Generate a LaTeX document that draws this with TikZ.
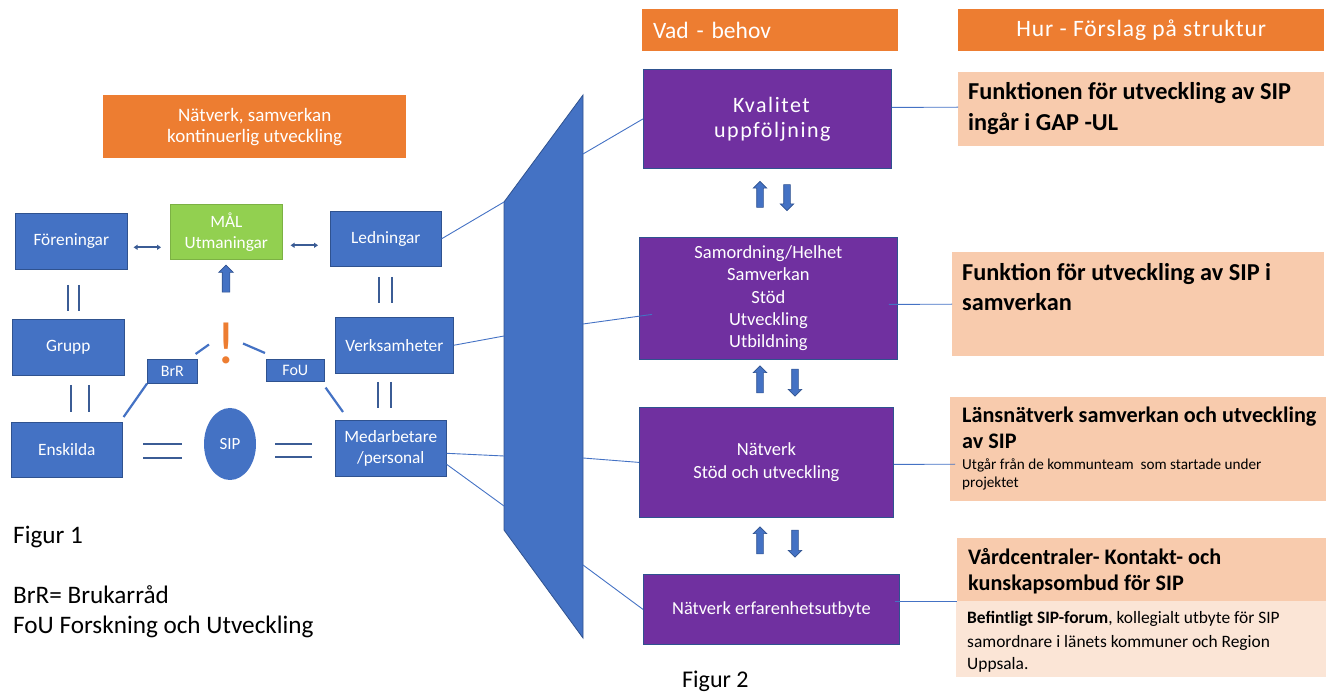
\documentclass[tikz,border=0pt]{standalone}
\usepackage{fontspec}
\setmainfont{Carlito}
\usetikzlibrary{shapes.geometric,shapes.arrows,arrows.meta,calc}
\definecolor{obg}{HTML}{ED7D31}
\definecolor{bbox}{HTML}{4472C4}
\definecolor{bdark}{HTML}{2F528F}
\definecolor{purp}{HTML}{7030A0}
\definecolor{peach}{HTML}{F8CBAD}
\definecolor{lpeach}{HTML}{FBE5D6}
\definecolor{grn}{HTML}{92D050}
\definecolor{pairc}{HTML}{3B5C95}
\begin{document}
\begin{tikzpicture}[x=1pt,y=-1pt,
  lb/.style={fill=bbox, draw=bdark, line width=0.6pt, text=white, font=\fontsize{17.3}{21}\selectfont, align=center, anchor=north west, inner sep=0pt},
  pb/.style={fill=purp, draw=bdark, line width=0.8pt, text=white, align=center, anchor=north west, inner sep=0pt},
  ob/.style={fill=obg, text=white, anchor=north west, inner sep=0pt},
  pch/.style={fill=peach, anchor=north west, inner sep=0pt},
  tl/.style={anchor=base west, inner sep=0pt},
  bigb/.style={tl, font=\bfseries\fontsize{24.3}{28}\selectfont},
  midb/.style={tl, font=\bfseries\fontsize{22.2}{26}\selectfont},
  conn/.style={draw=bbox, line width=0.9pt},
  lconn/.style={draw=bbox, line width=2.2pt},
  pairl/.style={draw=pairc, line width=1.8pt},
  blk/.style={single arrow, fill=bbox, draw=bdark, line width=0.6pt, inner sep=3pt, single arrow head extend=3.5pt, single arrow head indent=0pt, minimum height=27pt},
  harr/.style={draw=pairc, line width=1.6pt, {Triangle[length=4pt,width=5pt]}-{Triangle[length=4pt,width=5pt]}}
]
\useasboundingbox (0,0) rectangle (1326,692);

% ---------- left figure ----------
\node[ob, minimum width=303, minimum height=63, font=\fontsize{19}{21}\selectfont, align=center] (net) at (103,95) {Nätverk, samverkan\\kontinuerlig utveckling};

\node[lb, minimum width=112, minimum height=56] (fore) at (15,213) {Föreningar};
\node[lb, fill=grn, draw=grn!85!black, minimum width=112, minimum height=55] (mal) at (170,204) {MÅL\\Utmaningar};
\node[lb, minimum width=111, minimum height=55] (led) at (330,211) {Ledningar};
\node[lb, minimum width=112, minimum height=56] (grupp) at (12,319) {Grupp};
\node[lb, minimum width=118, minimum height=56] (verk) at (335,317) {Verksamheter};
\node[lb, minimum width=111, minimum height=55] (ensk) at (11,422) {Enskilda};
\node[lb, minimum width=111, minimum height=56] (med) at (335,420) {Medarbetare\\/personal};
\node[ellipse, fill=bbox, text=white, minimum width=52, minimum height=72, inner sep=0pt, font=\fontsize{17}{20}\selectfont] (sip) at (230,444) {SIP};
\node[lb, minimum width=50, minimum height=24, font=\fontsize{16}{18}\selectfont] (brr) at (147,359) {BrR};
\node[lb, minimum width=58, minimum height=22, font=\fontsize{16}{18}\selectfont] (fou) at (266,359) {FoU};
\node[text=obg, font=\fontsize{60}{60}\selectfont, inner sep=0pt] (ex) at (226,343.5) {!};
\node[blk, shape border rotate=90, inner sep=3.5pt] (up0) at (226,280.5) {};

% horizontal double arrows
\draw[harr] ([xshift=6pt,yshift=-6pt]fore.east) -- ([xshift=-9pt,yshift=-15.5pt]mal.west);
\draw[harr] ([xshift=8pt,yshift=-13.5pt]mal.east) -- ([xshift=-12pt,yshift=-6.5pt]led.west);

% vertical pairs
\draw[pairl] (68,285) -- (68,311);  \draw[pairl] (79,285) -- (79,311);
\draw[pairl] (71,385) -- (71,412);  \draw[pairl] (89,385) -- (89,412);
\draw[pairl] (379,277) -- (379,303); \draw[pairl] (392,277) -- (392,303);
\draw[pairl] (378,382) -- (378,408); \draw[pairl] (391,382) -- (391,408);
% equal signs
\draw[pairl, line width=2.6pt] (143,444) -- (182,444); \draw[pairl, line width=2.6pt] (143,458) -- (182,458);
\draw[pairl, line width=2.6pt] (275,444) -- (312,444); \draw[pairl, line width=2.6pt] (275,457) -- (312,457);

% diagonal connectors
\draw[lconn] (brr.south west) -- ([shift={(1,-5)}]ensk.north east);
\draw[lconn] ([shift={(-2,-5)}]brr.north east) -- ([shift={(-17,1)}]ex.center);
\draw[lconn] ([shift={(17,0)}]ex.center) -- ([shift={(-1,-6)}]fou.north west);
\draw[lconn] ([shift={(1,6)}]fou.south east) -- ([shift={(8,-8)}]med.north west);

% ---------- trapezoid ----------
\coordinate (t1) at (504,202);
\coordinate (t2) at (583,95);
\coordinate (t3) at (583,638);
\coordinate (t4) at (504,530);
\filldraw[fill=bbox, draw=bdark, line width=0.8pt] (t1) -- (t2) -- (t3) -- (t4) -- cycle;
\coordinate (tl2) at (504,336);
\coordinate (tl3) at (504,456);
\coordinate (tl4) at (504,506);
\coordinate (tr1) at (583,154);
\coordinate (tr2) at (583,324);
\coordinate (tr3) at (583,458);
\coordinate (tr4) at (583,565);

% ---------- headers ----------
\node[ob, minimum height=42, text width=234, inner xsep=11pt, align=left, font=\fontsize{23.5}{26}\selectfont] (vad) at (642,9) {Vad - behov};
\node[ob, minimum width=366, minimum height=42, font=\fontsize{23.5}{26}\selectfont\addfontfeature{LetterSpace=4}] (hur) at (958,9) {Hur - Förslag på struktur};

% ---------- purple boxes ----------
\node[pb, minimum width=248, minimum height=99, font=\fontsize{22}{25}\selectfont\addfontfeature{LetterSpace=7}] (kval) at (643,69) {\hspace*{8pt}Kvalitet\\\hspace*{10pt}uppföljning};
\node[pb, minimum width=258, minimum height=122, font=\fontsize{18.5}{22.3}\selectfont] (samo) at (639,237) {Samordning/Helhet\\Samverkan\\Stöd\\Utveckling\\Utbildning};
\node[pb, minimum width=254, minimum height=110, font=\fontsize{18.5}{23}\selectfont] (natv) at (639,407) {Nätverk\\Stöd och utveckling};
\node[pb, minimum width=256, minimum height=70, font=\fontsize{18.4}{21}\selectfont] (erf) at (643,574) {Nätverk erfarenhetsutbyte};

\node[blk, shape border rotate=90,  minimum height=26pt] (a1u) at (760,196) {};
\node[blk, shape border rotate=270, minimum height=26pt] (a1d) at (787,196) {};
\node[blk, shape border rotate=90] (a2u) at (760,381) {};
\node[blk, shape border rotate=270] (a2d) at (795,381) {};
\node[blk, shape border rotate=90] (a3u) at (760,542) {};
\node[blk, shape border rotate=270] (a3d) at (795,542) {};

% ---------- peach boxes ----------
\node[pch, minimum width=366, minimum height=74] (p1) at (958,72) {};
\node[bigb] (p1a) at (968,100) {Funktionen för utveckling av SIP};
\node[bigb] (p1b) at (968,131) {ingår i GAP -UL};

\node[pch, minimum width=372, minimum height=104] (p2) at (952,252) {};
\node[bigb] (p2a) at (962,281) {Funktion för utveckling av SIP i};
\node[bigb] (p2b) at (962,311) {samverkan};

\node[pch, minimum width=376, minimum height=104] (p3) at (950,397) {};
\node[midb] (p3a) at (962,423) {Länsnätverk samverkan och utveckling};
\node[midb] (p3b) at (962,449) {av SIP};
\node[tl, font=\fontsize{15.2}{18}\selectfont] (p3c) at (962,470) {Utgår från de kommunteam\ \ som startade under};
\node[tl, font=\fontsize{15.2}{18}\selectfont] (p3d) at (962,488) {projektet};

\node[pch, minimum width=369, minimum height=63] (p4) at (957,538) {};
\node[midb] (p4a) at (968,564) {Vårdcentraler- Kontakt- och};
\node[midb] (p4b) at (968,590) {kunskapsombud för SIP};

\node[pch, fill=lpeach, minimum width=370, minimum height=76] (p5) at (956,601) {};
\node[tl, font=\fontsize{17.4}{20}\selectfont] (p5a) at (967,623) {\textbf{Befintligt SIP-forum}, kollegialt utbyte för SIP};
\node[tl, font=\fontsize{17.4}{20}\selectfont] (p5b) at (967,647) {samordnare i länets kommuner och Region};
\node[tl, font=\fontsize{17.4}{20}\selectfont] (p5c) at (967,669) {Uppsala.};

% ---------- connectors ----------
\draw[conn] (led.east) -- (t1);
\draw[conn] (verk.east) -- (tl2);
\draw[conn] ([yshift=-5pt]med.east) -- (tl3);
\draw[conn] ([yshift=-16pt]med.east) -- (tl4);
\draw[conn] (tr1) -- (kval.west);
\draw[conn] (tr2) -- ([xshift=13pt,yshift=-16pt]samo.west);
\draw[conn] (tr3) -- (natv.west);
\draw[conn] (tr4) -- (erf.west);
\draw[conn] ([yshift=11.5pt]kval.east) -- ([yshift=2pt]p1.west);
\draw[conn] ([xshift=-9pt,yshift=-6pt]samo.east) -- (p2.west);
\draw[conn] ([yshift=-2pt]natv.east) -- ([xshift=5pt,yshift=-15pt]p3.west);
\draw[conn] ([xshift=-5pt,yshift=8pt]erf.east) -- (p4.south west);

% ---------- captions ----------
\node[tl, font=\fontsize{25.2}{29}\selectfont] (fig1) at (13,543) {Figur 1};
\node[tl, font=\fontsize{25.2}{29}\selectfont] (leg1) at (13,603) {BrR= Brukarråd};
\node[tl, font=\fontsize{25.2}{29}\selectfont] (leg2) at (13,633) {FoU Forskning och Utveckling};
\node[tl, font=\fontsize{24}{28}\selectfont] (fig2) at (682,687) {Figur 2};
\end{tikzpicture}
\end{document}
